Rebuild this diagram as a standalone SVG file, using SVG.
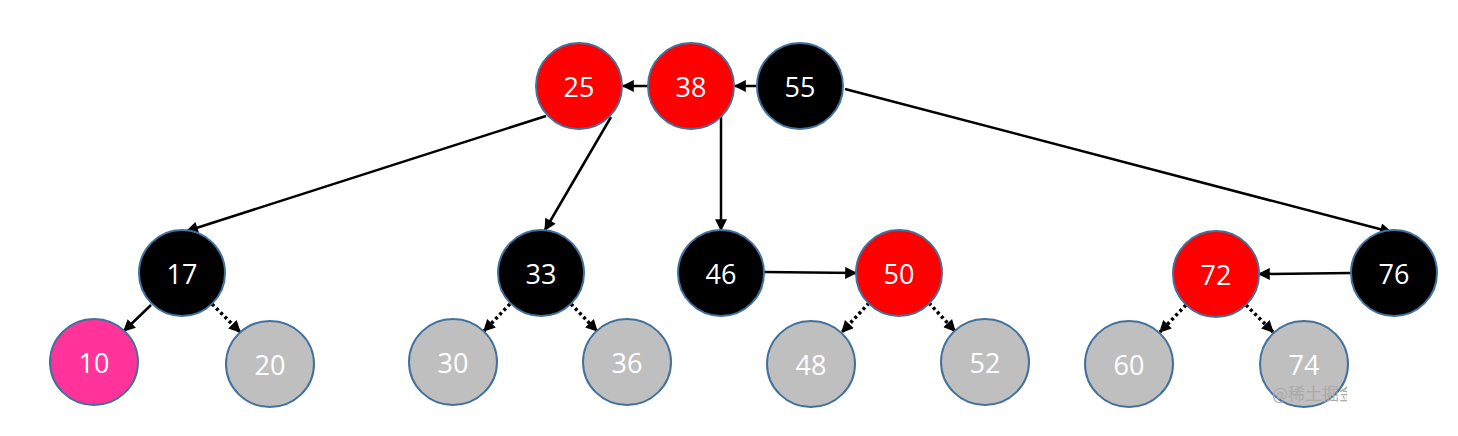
<svg xmlns="http://www.w3.org/2000/svg" width="1458" height="436" viewBox="0 0 1458 436">
<style>
.n{stroke:#41719c;stroke-width:2}
.r{fill:#ff0000}.b{fill:#000000}.g{fill:#bfbfbf}.p{fill:#ff3399}
.t{font-family:"Open Sans","Liberation Sans",sans-serif;font-size:27px;fill:#ffffff;text-anchor:middle;dominant-baseline:central}
.e{stroke:#000;stroke-width:2.5;fill:none;marker-end:url(#ah)}
.d{stroke:#000;stroke-width:3.5;fill:none;stroke-dasharray:3 3;marker-end:url(#ah)}
.w{font-family:"Noto Sans CJK SC","Liberation Sans",sans-serif;font-size:17px;fill:#aaaaaa}
</style>
<defs>
<marker id="ah" viewBox="0 0 10 10" refX="9" refY="5" markerWidth="13" markerHeight="12" orient="auto" markerUnits="userSpaceOnUse">
<path d="M0,0 L10,5 L0,10 z" fill="#000"/>
</marker>
<clipPath id="wc"><rect x="1260" y="375" width="87" height="30"/></clipPath>
</defs>
<rect width="1458" height="436" fill="#ffffff"/>
<g id="connectors">
<line class="e" x1="648" y1="86" x2="623" y2="86"/>
<line class="e" x1="757" y1="86" x2="735" y2="86"/>
<line class="e" x1="546" y1="116" x2="187" y2="231"/>
<line class="e" x1="611" y1="117" x2="545" y2="230"/>
<line class="e" x1="721" y1="116" x2="721" y2="230"/>
<line class="e" x1="845" y1="89" x2="1391" y2="232"/>
<line class="e" x1="764" y1="272" x2="856" y2="273"/>
<line class="e" x1="1351" y1="273" x2="1259" y2="274"/>
<line class="e" x1="151" y1="305" x2="124" y2="331"/>
<line class="d" x1="212" y1="304" x2="240" y2="332"/>
<line class="d" x1="510" y1="304" x2="484" y2="331"/>
<line class="d" x1="571" y1="304" x2="597" y2="331"/>
<line class="d" x1="869" y1="303" x2="842" y2="332"/>
<line class="d" x1="929" y1="303" x2="955" y2="331"/>
<line class="d" x1="1186" y1="305" x2="1160" y2="332"/>
<line class="d" x1="1246" y1="305" x2="1273" y2="332"/>
</g>
<g id="n25"><ellipse class="n r" cx="579" cy="86" rx="43" ry="43"/><text class="t" x="579" y="86">25</text></g>
<g id="n38"><ellipse class="n r" cx="691" cy="86" rx="43" ry="43"/><text class="t" x="691" y="86">38</text></g>
<g id="n55"><ellipse class="n b" cx="800" cy="86" rx="43" ry="43"/><text class="t" x="800" y="86">55</text></g>
<g id="n17"><ellipse class="n b" cx="182" cy="273" rx="43" ry="43"/><text class="t" x="182" y="273">17</text></g>
<g id="n33"><ellipse class="n b" cx="541" cy="273" rx="43" ry="43"/><text class="t" x="541" y="273">33</text></g>
<g id="n46"><ellipse class="n b" cx="721" cy="273" rx="43" ry="43"/><text class="t" x="721" y="273">46</text></g>
<g id="n50"><ellipse class="n r" cx="899" cy="273" rx="43" ry="43"/><text class="t" x="899" y="273">50</text></g>
<g id="n72"><ellipse class="n r" cx="1216" cy="274" rx="43" ry="43"/><text class="t" x="1216" y="274">72</text></g>
<g id="n76"><ellipse class="n b" cx="1394" cy="273" rx="43" ry="43"/><text class="t" x="1394" y="273">76</text></g>
<g id="n10"><ellipse class="n p" cx="94" cy="362" rx="44" ry="43"/><text class="t" x="94" y="362">10</text></g>
<g id="n20"><ellipse class="n g" cx="270" cy="364" rx="44" ry="43"/><text class="t" x="270" y="364">20</text></g>
<g id="n30"><ellipse class="n g" cx="453" cy="362" rx="44" ry="43"/><text class="t" x="453" y="362">30</text></g>
<g id="n36"><ellipse class="n g" cx="627" cy="362" rx="44" ry="43"/><text class="t" x="627" y="362">36</text></g>
<g id="n48"><ellipse class="n g" cx="811" cy="364" rx="44" ry="43"/><text class="t" x="811" y="364">48</text></g>
<g id="n52"><ellipse class="n g" cx="985" cy="362" rx="44" ry="43"/><text class="t" x="985" y="362">52</text></g>
<g id="n60"><ellipse class="n g" cx="1129" cy="364" rx="44" ry="43"/><text class="t" x="1129" y="364">60</text></g>
<g id="n74"><ellipse class="n g" cx="1304" cy="364" rx="44" ry="43"/><text class="t" x="1304" y="364">74</text></g>
<g id="watermark" clip-path="url(#wc)"><text class="w" x="1272" y="400">@稀土掘金</text></g>
</svg>
